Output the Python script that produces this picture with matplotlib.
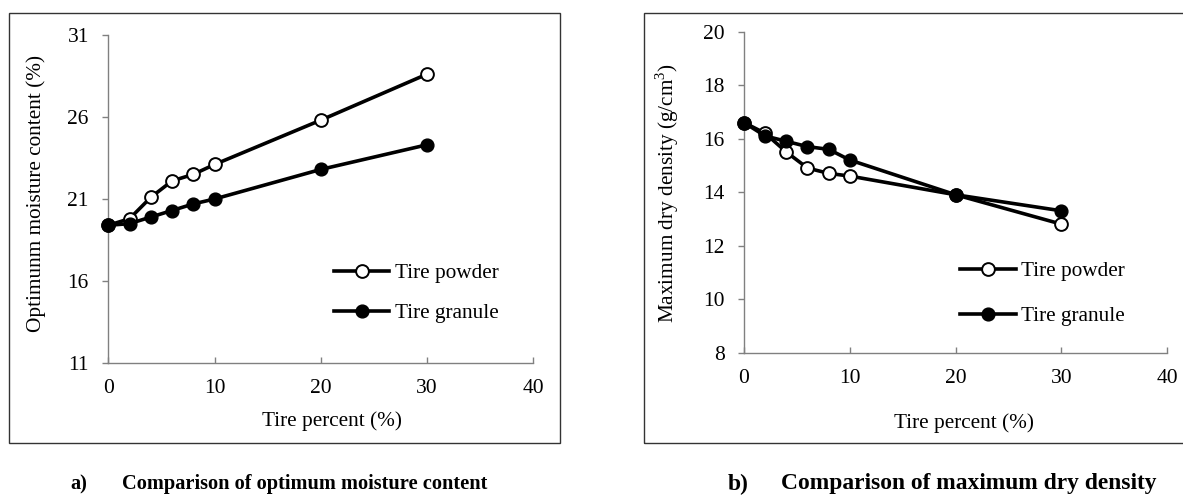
import matplotlib
matplotlib.use("Agg")
import matplotlib.pyplot as plt
from matplotlib.patches import Rectangle

plt.rcParams['font.family'] = ['Liberation Serif', 'DejaVu Serif']
plt.rcParams['mathtext.fontset'] = 'custom'
plt.rcParams['mathtext.rm'] = 'Liberation Serif'

# data
tire_pct = [0, 2, 4, 6, 8, 10, 20, 30]
omc_powder = [19.4, 19.8, 21.1, 22.1, 22.5, 23.1, 25.8, 28.6]
omc_granule = [19.4, 19.5, 19.9, 20.3, 20.7, 21.0, 22.8, 24.3]
mdd_powder = [16.6, 16.2, 15.5, 14.9, 14.7, 14.6, 13.9, 12.8]
mdd_granule = [16.6, 16.1, 15.9, 15.7, 15.6, 15.2, 13.9, 13.3]

labels = ["Tire powder", "Tire granule"]
captions = ["a)", "Comparison of optimum moisture content",
            "b)", "Comparison of maximum dry density"]

W, H = 1183, 495
fig = plt.figure(figsize=(W / 100, H / 100), dpi=100)

def px(x0, y0, x1, y1):
    # pixel box (top-left origin) -> figure fraction rect
    return [x0 / W, 1 - y1 / H, (x1 - x0) / W, (y1 - y0) / H]

# outer frames around each panel
fig.patches.append(Rectangle((8.5 / W, 1 - 443 / H), (560 - 8.5) / W, (443 - 13.3) / H,
                             transform=fig.transFigure, fill=False,
                             edgecolor='#333333', lw=1.0))
fig.patches.append(Rectangle((644 / W, 1 - 443 / H), (1200 - 644) / W, (443 - 13.3) / H,
                             transform=fig.transFigure, fill=False,
                             edgecolor='#333333', lw=1.0))

ax1 = fig.add_axes(px(108.3, 34.7, 533.3, 363.3))
ax2 = fig.add_axes(px(744.0, 31.7, 1167.3, 352.5))

FS = 15.3


def style(ax, xpad):
    for s in ['top', 'right']:
        ax.spines[s].set_visible(False)
    for s in ['left', 'bottom']:
        ax.spines[s].set_color('#808080')
        ax.spines[s].set_linewidth(1.0)
    ax.tick_params(axis='y', direction='out', length=4, width=1, color='#808080',
                   labelsize=15.5, pad=10)
    ax.tick_params(axis='x', direction='in', length=4, width=1, color='#808080',
                   labelsize=15.5, pad=xpad)
    ax.set_xlim(0, 40)
    ax.set_xticks([0, 10, 20, 30, 40])
    ax.set_facecolor('none')


def draw(ax, powder, granule):
    ax.plot(tire_pct, powder, color='black', lw=2.6, marker='o', ms=9.2,
            mfc='white', mec='black', mew=1.4, label=labels[0], clip_on=False, zorder=3)
    ax.plot(tire_pct, granule, color='black', lw=2.6, marker='o', ms=9.2,
            mfc='black', mec='black', label=labels[1], clip_on=False, zorder=4)


draw(ax1, omc_powder, omc_granule)
style(ax1, 11)
ax1.set_ylim(11, 31)
ax1.set_yticks([11, 16, 21, 26, 31])
ax1.set_xlabel("Tire percent (%)", fontsize=FS)
ax1.set_ylabel("Optimunm moisture content (%)", fontsize=FS)
ax1.xaxis.set_label_coords(0.526, -0.145)
ax1.yaxis.set_label_coords(-0.147, 0.517)
ax1.legend(loc='upper left', bbox_to_anchor=(0.531, 0.304), frameon=False,
           fontsize=FS, handlelength=2.6, handletextpad=0.25, borderpad=0,
           borderaxespad=0, labelspacing=0.94, numpoints=1)

draw(ax2, mdd_powder, mdd_granule)
style(ax2, 12)
ax2.set_ylim(8, 20)
ax2.set_yticks([8, 10, 12, 14, 16, 18, 20])
ax2.set_xlabel("Tire percent (%)", fontsize=FS)
ax2.set_ylabel("Maximum dry density (g/cm$^{3}$)", fontsize=FS)
ax2.xaxis.set_label_coords(0.520, -0.189)
ax2.yaxis.set_label_coords(-0.149, 0.496)
ax2.legend(loc='upper left', bbox_to_anchor=(0.511, 0.284), frameon=False,
           fontsize=FS, handlelength=2.6, handletextpad=0.25, borderpad=0,
           borderaxespad=0, labelspacing=1.17, numpoints=1)

# captions under the panels
cap_y = 1 - 484 / H
fig.text(70 / W, cap_y, captions[0], fontsize=14.7, fontweight='bold', va='center')
fig.text(122 / W, cap_y, captions[1], fontsize=14.7, fontweight='bold', va='center')
fig.text(728 / W, cap_y, captions[2], fontsize=16.9, fontweight='bold', va='center')
fig.text(781 / W, cap_y, captions[3], fontsize=16.9, fontweight='bold', va='center')

fig.savefig("out.png", dpi=100)
